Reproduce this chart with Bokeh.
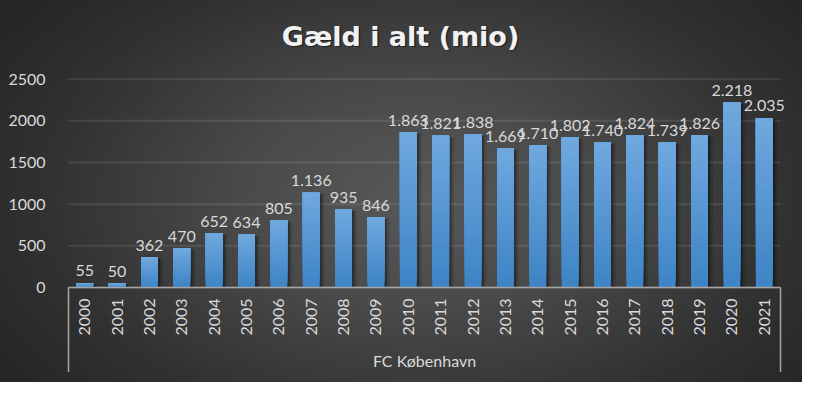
import numpy as np
from bokeh.plotting import figure
from bokeh.models import Range1d, FixedTicker
from bokeh.core.properties import value
from bokeh.embed import file_html
from bokeh.resources import INLINE

# ---- data ----
years = ["2000", "2001", "2002", "2003", "2004", "2005", "2006", "2007", "2008", "2009", "2010",
         "2011", "2012", "2013", "2014", "2015", "2016", "2017", "2018", "2019", "2020", "2021"]
debt = [55, 50, 362, 470, 652, 634, 805, 1136, 935, 846, 1863,
        1821, 1838, 1669, 1710, 1802, 1740, 1824, 1739, 1826, 2218, 2035]
y_ticks = [0, 500, 1000, 1500, 2000, 2500]
group_label = "FC København"
title_text = "Gæld i alt (mio)"

# ---- layout ----
W, H = 802, 382
BL = 66                               # left border (y axis labels)
RPAD = 20                             # free pixels right of the category area
FW = W - BL                           # frame width (frame reaches the right edge)
n = len(years)
CAT = (FW - RPAD - 4) / n             # px per category
XPX = 1 / CAT                         # category units per pixel
PX = 500 / 41.66                      # data units per pixel (vertical)
ZERO_Y = 287.0                        # pixel row of value 0
xs = list(range(n))
x0, x1 = -0.5, n - 0.5

FONT = "Lato"
TXT = "#d9d9d9"
FS = "16px"

p = figure(width=W, height=H, output_backend="svg", toolbar_location=None,
           x_range=Range1d(x0 - 2 * XPX, x1 + (2 + RPAD) * XPX),
           y_range=Range1d(-(H - ZERO_Y) * PX, ZERO_Y * PX),
           x_axis_location=None,
           min_border_left=BL, min_border_right=0, min_border_top=0, min_border_bottom=0,
           background_fill_color=None, border_fill_color=None, outline_line_color=None,
           styles={"background": "radial-gradient(ellipse 62% 80% at 52% 52%, #585858 0%, #4a4a4a 35%, #313131 75%, #262626 100%)"})

# y axis
p.yaxis.ticker = FixedTicker(ticks=y_ticks)
p.yaxis.axis_line_color = None
p.yaxis.major_tick_line_color = None
p.yaxis.minor_tick_line_color = None
p.yaxis.major_label_standoff = 15
p.yaxis.major_label_text_font = FONT
p.yaxis.major_label_text_font_size = FS
p.yaxis.major_label_text_color = TXT
p.grid.visible = False

# horizontal gridlines over the category area only
p.segment(x0=[x0] * len(y_ticks), y0=y_ticks, x1=[x1] * len(y_ticks), y1=y_ticks,
          line_color="white", line_alpha=0.1, line_width=2)

# bar shadows
BW = 0.52
p.vbar(x=[x + 3 * XPX for x in xs], width=BW + 4 * XPX, top=[v - 1 * PX for v in debt], bottom=0,
       fill_color="black", fill_alpha=0.12, line_color=None)
p.vbar(x=[x + 2.5 * XPX for x in xs], width=BW, top=[v - 1.5 * PX for v in debt], bottom=0,
       fill_color="black", fill_alpha=0.3, line_color=None)

# bars with vertical gradient (bottom dark -> top light)
c_bot = np.array([0x3e, 0x84, 0xc6])
c_top = np.array([0x6f, 0xa8, 0xde])
NS = 24
bx, bb, bt, bc = [], [], [], []
for k in range(NS):
    f = k / (NS - 1)
    col = c_bot + (c_top - c_bot) * f
    hexc = "#%02x%02x%02x" % tuple(int(round(c)) for c in col)
    for x, v in zip(xs, debt):
        bx.append(x)
        bb.append(v * k / NS)
        bt.append(v)
        bc.append(hexc)
p.vbar(x=bx, width=BW, bottom=bb, top=bt, fill_color=bc, line_color=None)

# data labels
lbl = [f"{v:,}".replace(",", ".") for v in debt]
p.text(x=xs, y=debt, text=lbl, text_align="center", text_baseline="alphabetic",
       y_offset=-12, text_font=value(FONT), text_font_size=FS, text_color=TXT)

# x axis line + bracket
p.segment(x0=[x0], y0=[0], x1=[x1], y1=[0], line_color="#a6a6a6", line_width=1.5)
p.segment(x0=[x0, x1], y0=[0, 0], x1=[x0, x1], y1=[-84.5 * PX, -84.5 * PX],
          line_color="#a6a6a6", line_width=1.5)

# year labels (rotated)
p.text(x=xs, y=[0] * n, text=years, angle=np.pi / 2, text_align="right", text_baseline="middle",
       y_offset=11, text_font=value(FONT), text_font_size=FS, text_color=TXT)

# group label
p.text(x=[(x0 + x1) / 2], y=[0], text=[group_label], text_align="center", text_baseline="middle",
       y_offset=73, text_font=value(FONT), text_font_size=FS, text_color=TXT)

# title with shadow
p.text(x=[(x0 + x1) / 2], y=[2500], text=[title_text], text_align="center", text_baseline="middle",
       x_offset=-22.5, y_offset=-41.5, text_font=value("DejaVu Sans"), text_font_style="bold",
       text_font_size="27px", text_color="black", text_alpha=0.45)
p.text(x=[(x0 + x1) / 2], y=[2500], text=[title_text], text_align="center", text_baseline="middle",
       x_offset=-24, y_offset=-43, text_font=value("DejaVu Sans"), text_font_style="bold",
       text_font_size="27px", text_color="#f2f2f2")

open("out.html", "w").write(file_html(p, INLINE))
